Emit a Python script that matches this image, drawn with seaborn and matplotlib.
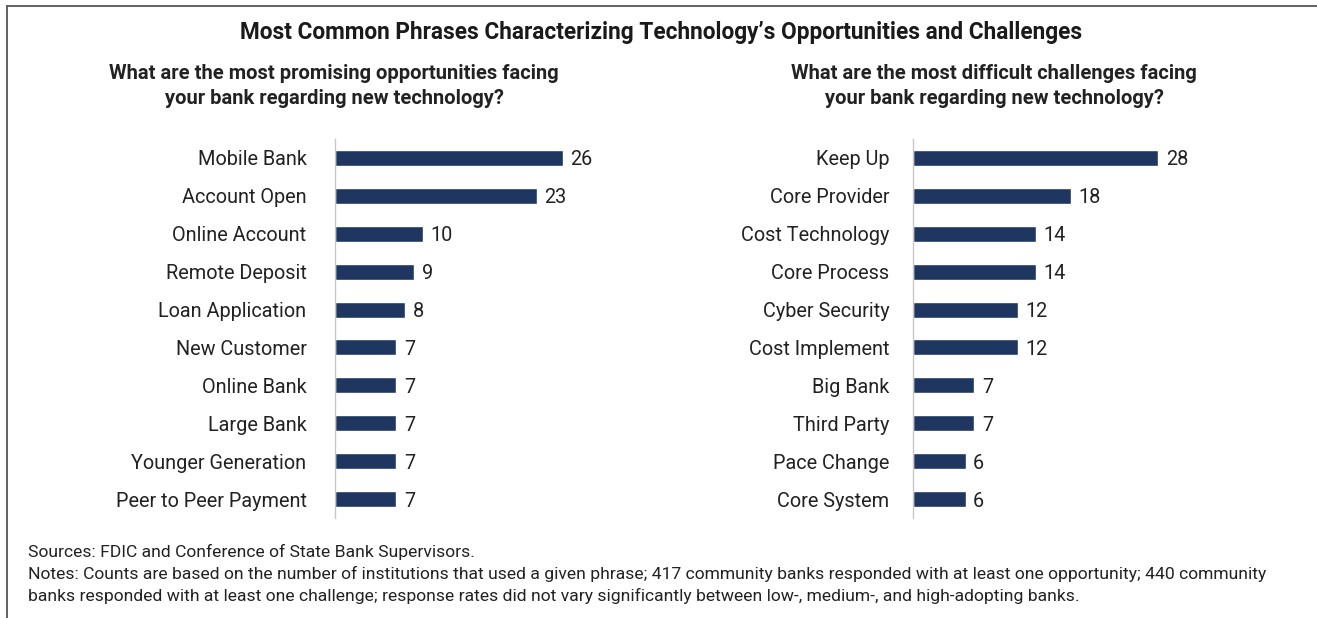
import matplotlib
matplotlib.use("Agg")
import matplotlib.pyplot as plt
from matplotlib.lines import Line2D
import pandas as pd
import seaborn as sns

# Phrase counts
opportunity_phrases = ["Mobile Bank", "Account Open", "Online Account", "Remote Deposit",
                       "Loan Application", "New Customer", "Online Bank", "Large Bank",
                       "Younger Generation", "Peer to Peer Payment"]
opportunity_counts = [26, 23, 10, 9, 8, 7, 7, 7, 7, 7]

challenge_phrases = ["Keep Up", "Core Provider", "Cost Technology", "Core Process",
                     "Cyber Security", "Cost Implement", "Big Bank", "Third Party",
                     "Pace Change", "Core System"]
challenge_counts = [28, 18, 14, 14, 12, 12, 7, 7, 6, 6]

title = "Most Common Phrases Characterizing Technology\u2019s Opportunities and Challenges"
left_subtitle = "What are the most promising opportunities facing\nyour bank regarding new technology?"
right_subtitle = "What are the most difficult challenges facing\nyour bank regarding new technology?"
notes = ("Sources: FDIC and Conference of State Bank Supervisors.\n"
         "Notes: Counts are based on the number of institutions that used a given phrase; "
         "417 community banks responded with at least one opportunity; 440 community\n"
         "banks responded with at least one challenge; response rates did not vary "
         "significantly between low-, medium-, and high-adopting banks.")

NAVY = "#1F3760"
TEXT = "#222222"

sns.set_style("white")
plt.rcParams["font.family"] = ["Roboto", "DejaVu Sans"]
plt.rcParams["text.color"] = TEXT

W, H = 1317, 618
fig = plt.figure(figsize=(W / 100, H / 100), dpi=100)
fig.patch.set_facecolor("white")


def px_axes(x0, y_top, w, h):
    return fig.add_axes([x0 / W, 1 - (y_top + h) / H, w / W, h / H])


def draw_panel(ax, phrases, counts, pad):
    df = pd.DataFrame({"phrase": phrases, "count": counts})
    sns.barplot(data=df, x="count", y="phrase", orient="h", color=NAVY,
                width=0.42, saturation=1, ax=ax)
    ax.set_xlim(0, 30)
    ax.set_ylim(len(phrases) - 0.5, -0.5)
    ax.set_xlabel("")
    ax.set_ylabel("")
    ax.set_xticks([])
    ax.tick_params(axis="y", length=0, pad=pad, labelsize=14.3, labelcolor=TEXT)
    for side in ["top", "right", "bottom"]:
        ax.spines[side].set_visible(False)
    ax.spines["left"].set_color("#C8C8C8")
    ax.spines["left"].set_linewidth(1.0)
    ax.set_facecolor("none")
    for lbl in ax.bar_label(ax.containers[0], padding=5.5, fontsize=14.3, color=TEXT):
        lbl.set_va("center_baseline")


ax_left = px_axes(335, 139, 263, 379)
draw_panel(ax_left, opportunity_phrases, opportunity_counts, pad=20.5)

ax_right = px_axes(913, 139, 263, 379)
draw_panel(ax_right, challenge_phrases, challenge_counts, pad=17)

fig.text(661 / W, 1 - 32 / H, title, ha="center", va="center",
         fontsize=16.3, fontweight="bold", color="#1A1A1A")
fig.text(334 / W, 1 - 86 / H, left_subtitle, ha="center", va="center",
         fontsize=14.5, fontweight="bold", color=TEXT, linespacing=1.45)
fig.text(994 / W, 1 - 86 / H, right_subtitle, ha="center", va="center",
         fontsize=14.5, fontweight="bold", color=TEXT, linespacing=1.45)
fig.text(28 / W, 1 - 574 / H, notes, ha="left", va="center",
         fontsize=12.6, color=TEXT, linespacing=1.45)

# Frame lines along the top and left edges
fig.add_artist(Line2D([7 / W, 1], [1 - 6 / H, 1 - 6 / H], transform=fig.transFigure,
                      color="#555555", linewidth=1.3))
fig.add_artist(Line2D([7 / W, 7 / W], [0, 1 - 6 / H], transform=fig.transFigure,
                      color="#555555", linewidth=1.3))

fig.savefig("out.png", dpi=100, facecolor="white")
